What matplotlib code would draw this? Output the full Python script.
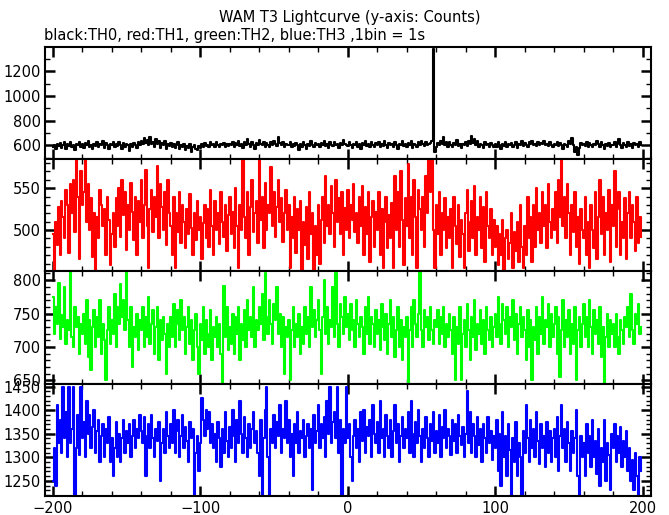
import numpy as np
import matplotlib
matplotlib.use("Agg")
from matplotlib import pyplot as plt
from matplotlib.ticker import MultipleLocator

# time bins (1 s) relative to trigger
t = np.arange(-200, 200)

# TH0 counts (black)
th0 = [
    590, 605, 575, 615, 595, 620, 580, 600, 625, 570, 610, 595, 630, 585, 605, 560, 615, 600, 625, 590,
    610, 580, 620, 600, 635, 590, 605, 575, 615, 595, 625, 585, 610, 600, 640, 580, 620, 605, 570, 615,
    600, 630, 585, 610, 595, 625, 605, 575, 620, 590, 615, 600, 555, 610, 590, 620, 600, 580, 625, 605,
    640, 610, 660, 620, 645, 600, 665, 615, 630, 590, 650, 610, 635, 580, 620, 600, 640, 575, 610, 595,
    620, 590, 610, 580, 600, 625, 570, 605, 590, 615, 560, 595, 580, 610, 550, 590, 600, 575, 560, 595,
    580, 610, 590, 620, 595, 605, 585, 625, 600, 610, 590, 630, 605, 585, 615, 600, 620, 590, 610, 595,
    615, 600, 630, 590, 620, 605, 640, 595, 615, 580, 625, 600, 650, 610, 590, 625, 605, 575, 620, 600,
    645, 615, 600, 630, 590, 620, 605, 585, 625, 600, 640, 610, 595, 665, 620, 600, 630, 590, 615, 605,
    600, 630, 585, 615, 595, 620, 605, 560, 610, 590, 625, 600, 575, 615, 595, 635, 605, 585, 620, 600,
    610, 585, 620, 600, 640, 595, 615, 580, 625, 605, 595, 630, 600, 615, 580, 620, 605, 645, 610, 600,
    595, 625, 605, 580, 615, 600, 630, 590, 610, 575, 620, 600, 640, 595, 615, 585, 625, 605, 590, 620,
    600, 630, 585, 615, 595, 640, 605, 580, 620, 600, 615, 590, 625, 605, 570, 615, 600, 635, 595, 610,
    590, 620, 600, 635, 580, 615, 605, 590, 625, 600, 640, 610, 595, 630, 600, 615, 620, 635, 1385, 545,
    590, 620, 600, 640, 610, 670, 600, 630, 585, 625, 605, 590, 620, 600, 645, 595, 615, 580, 610, 600,
    625, 595, 640, 610, 680, 620, 650, 600, 635, 590, 615, 605, 580, 625, 600, 615, 590, 620, 605, 585,
    610, 590, 625, 600, 575, 615, 595, 630, 585, 610, 600, 620, 590, 605, 625, 580, 615, 600, 635, 595,
    620, 600, 590, 625, 610, 640, 605, 615, 595, 630, 600, 620, 610, 635, 600, 615, 595, 625, 605, 590,
    615, 600, 630, 595, 620, 605, 575, 615, 600, 590, 640, 610, 660, 600, 545, 590, 525, 580, 620, 600,
    615, 595, 630, 590, 620, 605, 585, 615, 600, 640, 610, 590, 625, 600, 570, 610, 595, 620, 585, 605,
    600, 625, 590, 615, 650, 600, 580, 620, 605, 590, 630, 595, 615, 580, 620, 600, 610, 590, 625, 600,
]

# TH1 counts (red)
th1 = [
    495, 452, 510, 482, 528, 470, 535, 515, 490, 548, 530, 472, 555, 520, 560, 498, 584, 540, 465, 570,
    530, 545, 584, 510, 555, 500, 538, 468, 520, 452, 515, 490, 548, 530, 505, 525, 470, 540, 512, 458,
    495, 520, 480, 538, 505, 550, 492, 560, 518, 545, 476, 530, 500, 556, 522, 488, 540, 470, 535, 510,
    560, 490, 530, 572, 505, 455, 525, 548, 498, 540, 515, 577, 490, 555, 528, 500, 545, 482, 560, 520,
    505, 470, 540, 455, 520, 498, 545, 485, 530, 510, 478, 525, 495, 543, 502, 470, 520, 488, 535, 500,
    515, 465, 508, 530, 490, 525, 480, 548, 505, 470, 535, 500, 520, 483, 545, 510, 492, 530, 475, 518,
    540, 495, 522, 478, 550, 505, 455, 530, 500, 584, 515, 490, 545, 470, 527, 560, 498, 520, 535, 484,
    584, 512, 540, 478, 556, 500, 530, 520, 575, 505, 545, 492, 528, 560, 510, 538, 486, 520, 548, 500,
    530, 455, 515, 490, 540, 472, 525, 500, 535, 450, 510, 482, 528, 466, 545, 495, 520, 452, 505, 470,
    530, 460, 512, 540, 485, 565, 505, 530, 495, 552, 520, 480, 560, 510, 538, 495, 545, 470, 526, 500,
    548, 490, 530, 512, 555, 498, 520, 485, 540, 505, 552, 470, 528, 495, 545, 462, 515, 535, 480, 522,
    500, 545, 470, 525, 455, 510, 540, 478, 518, 490, 532, 455, 565, 500, 545, 480, 570, 512, 458, 538,
    505, 579, 490, 540, 470, 560, 515, 455, 548, 525, 500, 540, 480, 565, 520, 584, 545, 584, 500, 455,
    530, 495, 545, 470, 520, 500, 538, 478, 515, 490, 525, 455, 540, 505, 483, 530, 468, 512, 495, 455,
    520, 548, 475, 510, 535, 490, 552, 470, 515, 500, 540, 478, 528, 462, 545, 505, 490, 525, 470, 512,
    480, 505, 458, 495, 470, 512, 452, 490, 500, 465, 485, 520, 455, 498, 475, 510, 462, 530, 480, 455,
    505, 470, 540, 490, 515, 462, 530, 480, 550, 500, 520, 485, 545, 505, 530, 478, 555, 510, 490, 525,
    500, 545, 485, 560, 515, 584, 505, 540, 490, 555, 520, 470, 530, 498, 545, 480, 515, 460, 525, 500,
    490, 540, 470, 510, 455, 530, 500, 478, 545, 465, 515, 560, 495, 540, 470, 520, 500, 548, 462, 530,
    505, 570, 480, 525, 545, 470, 510, 490, 538, 465, 520, 545, 490, 530, 510, 475, 540, 485, 515, 492,
]

# TH2 counts (green)
th2 = [
    775, 720, 760, 735, 796, 712, 748, 730, 790, 705, 740, 725, 813, 715, 700, 760, 730, 745, 690, 735,
    720, 750, 705, 770, 685, 740, 665, 730, 755, 700, 745, 715, 770, 690, 735, 710, 650, 725, 760, 705,
    740, 720, 780, 700, 760, 735, 795, 745, 770, 725, 813, 740, 700, 760, 670, 730, 715, 750, 695, 740,
    725, 760, 700, 745, 715, 775, 705, 735, 755, 690, 730, 760, 680, 740, 710, 745, 720, 660, 735, 700,
    745, 715, 765, 700, 735, 755, 710, 770, 725, 745, 690, 730, 760, 705, 740, 680, 725, 750, 700, 660,
    735, 710, 760, 690, 740, 720, 700, 755, 680, 730, 715, 745, 700, 735, 690, 645, 791, 715, 760, 695,
    730, 705, 750, 690, 745, 720, 760, 680, 735, 710, 755, 700, 770, 725, 745, 715, 790, 700, 740, 725,
    760, 735, 780, 710, 810, 745, 720, 770, 735, 705, 765, 740, 790, 720, 750, 700, 745, 660, 730, 715,
    740, 650, 725, 760, 700, 735, 715, 750, 690, 730, 705, 760, 720, 745, 700, 790, 730, 755, 715, 740,
    770, 725, 660, 745, 800, 720, 760, 705, 740, 730, 790, 715, 810, 735, 700, 765, 745, 720, 775, 730,
    750, 710, 765, 725, 740, 700, 770, 735, 715, 745, 730, 690, 760, 720, 775, 705, 745, 735, 700, 755,
    720, 740, 695, 765, 730, 710, 750, 690, 735, 770, 715, 745, 685, 725, 760, 700, 740, 680, 730, 715,
    745, 640, 725, 760, 700, 770, 735, 715, 750, 813, 725, 700, 755, 730, 745, 710, 760, 725, 705, 740,
    730, 755, 705, 745, 720, 760, 700, 735, 715, 750, 725, 690, 745, 650, 730, 705, 760, 650, 720, 740,
    700, 765, 725, 680, 745, 715, 770, 695, 735, 720, 755, 705, 740, 690, 760, 725, 710, 745, 700, 730,
    750, 715, 775, 735, 705, 765, 740, 720, 760, 700, 745, 730, 770, 710, 750, 690, 735, 760, 715, 745,
    725, 680, 755, 700, 740, 650, 730, 710, 760, 690, 745, 720, 775, 705, 740, 730, 765, 700, 750, 715,
    735, 760, 690, 745, 655, 725, 770, 700, 740, 715, 755, 690, 735, 705, 760, 650, 725, 745, 700, 735,
    765, 715, 745, 700, 770, 730, 690, 755, 720, 740, 705, 760, 685, 730, 645, 715, 750, 700, 740, 720,
    735, 700, 750, 715, 690, 740, 725, 705, 745, 730, 760, 715, 780, 725, 705, 750, 735, 765, 720, 730,
]

# TH3 counts (blue)
th3 = [
    1250, 1320, 1240, 1410, 1330, 1380, 1310, 1450, 1340, 1395, 1300, 1450, 1330, 1360, 1450, 1220, 1320, 1390, 1305, 1450,
    1340, 1375, 1300, 1420, 1350, 1390, 1320, 1365, 1400, 1310, 1355, 1380, 1290, 1345, 1370, 1300, 1360, 1330, 1385, 1290,
    1340, 1260, 1320, 1375, 1300, 1350, 1290, 1340, 1380, 1310, 1355, 1330, 1370, 1300, 1345, 1380, 1320, 1360, 1340, 1390,
    1355, 1330, 1385, 1260, 1345, 1370, 1320, 1390, 1340, 1300, 1360, 1335, 1375, 1250, 1330, 1360, 1310, 1395, 1345, 1320,
    1370, 1330, 1400, 1310, 1355, 1380, 1300, 1345, 1390, 1320, 1365, 1335, 1290, 1375, 1340, 1360, 1220, 1310, 1345, 1270,
    1330, 1426, 1380, 1345, 1400, 1360, 1395, 1330, 1370, 1320, 1350, 1290, 1375, 1340, 1280, 1360, 1310, 1395, 1335, 1300,
    1365, 1320, 1400, 1345, 1290, 1380, 1330, 1420, 1350, 1310, 1385, 1340, 1300, 1370, 1320, 1360, 1395, 1330, 1355, 1310,
    1260, 1380, 1220, 1340, 1400, 1450, 1300, 1220, 1360, 1330, 1390, 1320, 1375, 1345, 1410, 1310, 1360, 1340, 1420, 1330,
    1380, 1300, 1350, 1260, 1370, 1330, 1395, 1310, 1355, 1340, 1380, 1300, 1345, 1370, 1320, 1360, 1230, 1390, 1330, 1355,
    1410, 1320, 1370, 1340, 1385, 1300, 1420, 1350, 1450, 1330, 1375, 1395, 1340, 1450, 1310, 1380, 1220, 1360, 1330, 1450,
    1340, 1370, 1300, 1250, 1345, 1380, 1320, 1360, 1290, 1395, 1335, 1400, 1310, 1365, 1345, 1380, 1300, 1410, 1350, 1330,
    1375, 1310, 1420, 1340, 1360, 1300, 1390, 1345, 1320, 1380, 1300, 1355, 1410, 1330, 1370, 1290, 1345, 1385, 1320, 1360,
    1340, 1395, 1310, 1420, 1350, 1300, 1375, 1330, 1400, 1345, 1290, 1360, 1320, 1385, 1340, 1300, 1370, 1335, 1395, 1310,
    1355, 1330, 1390, 1300, 1365, 1340, 1400, 1320, 1360, 1345, 1305, 1380, 1335, 1370, 1310, 1390, 1345, 1325, 1365, 1300,
    1350, 1440, 1330, 1395, 1310, 1370, 1345, 1300, 1385, 1325, 1360, 1290, 1370, 1340, 1310, 1385, 1330, 1355, 1295, 1345,
    1320, 1380, 1270, 1350, 1240, 1395, 1300, 1345, 1260, 1370, 1315, 1220, 1340, 1290, 1375, 1260, 1330, 1300, 1220, 1355,
    1310, 1410, 1340, 1290, 1380, 1320, 1360, 1300, 1395, 1335, 1285, 1370, 1320, 1345, 1280, 1375, 1310, 1355, 1290, 1340,
    1360, 1300, 1385, 1270, 1345, 1410, 1320, 1360, 1290, 1375, 1330, 1270, 1355, 1310, 1340, 1400, 1260, 1220, 1345, 1300,
    1330, 1260, 1370, 1310, 1345, 1280, 1380, 1300, 1335, 1265, 1360, 1240, 1320, 1290, 1380, 1250, 1330, 1305, 1230, 1350,
    1320, 1370, 1290, 1345, 1310, 1365, 1280, 1335, 1300, 1355, 1270, 1320, 1250, 1295, 1230, 1310, 1260, 1220, 1300, 1270,
]

series = [th0, th1, th2, th3]
colors = ["black", "#ff0000", "#00ff00", "#0000ff"]
ylims = [(488, 1398), (450.5, 584.5), (645, 813), (1218, 1456)]
major = [200, 50, 50, 50]
minor = [100, 10, 10, 10]

plt.rcParams['font.family'] = ['DejaVu Sans']
fig = plt.figure(figsize=(6.69, 5.15), dpi=100)

left, right = 0.068, 0.973
bottom, top = 0.037, 0.9087
h = (top - bottom) / 4

for i in range(4):
    ax = fig.add_axes([left, top - (i + 1) * h, right - left, h])
    ax.step(t, series[i], where='mid', color=colors[i], lw=1.5)
    ax.set_xlim(-205, 205.5)
    ax.set_ylim(*ylims[i])
    ax.xaxis.set_major_locator(MultipleLocator(100))
    ax.xaxis.set_minor_locator(MultipleLocator(20))
    ax.yaxis.set_major_locator(MultipleLocator(major[i]))
    ax.yaxis.set_minor_locator(MultipleLocator(minor[i]))
    ax.tick_params(which='both', direction='in', top=True, right=True, labelsize=10.5)
    ax.tick_params(which='major', length=7, width=1.8)
    ax.tick_params(which='minor', length=3.5, width=1.0)
    for s in ax.spines.values():
        s.set_linewidth(1.5)
    if i < 3:
        ax.tick_params(labelbottom=False)

fig.text(0.523, 0.966, "WAM T3 Lightcurve (y-axis: Counts)", ha='center', va='center', fontsize=10.5)
fig.text(0.066, 0.932, "black:TH0, red:TH1, green:TH2, blue:TH3 ,1bin = 1s", ha='left', va='center', fontsize=10.5)

fig.savefig("out.png", dpi=100)
